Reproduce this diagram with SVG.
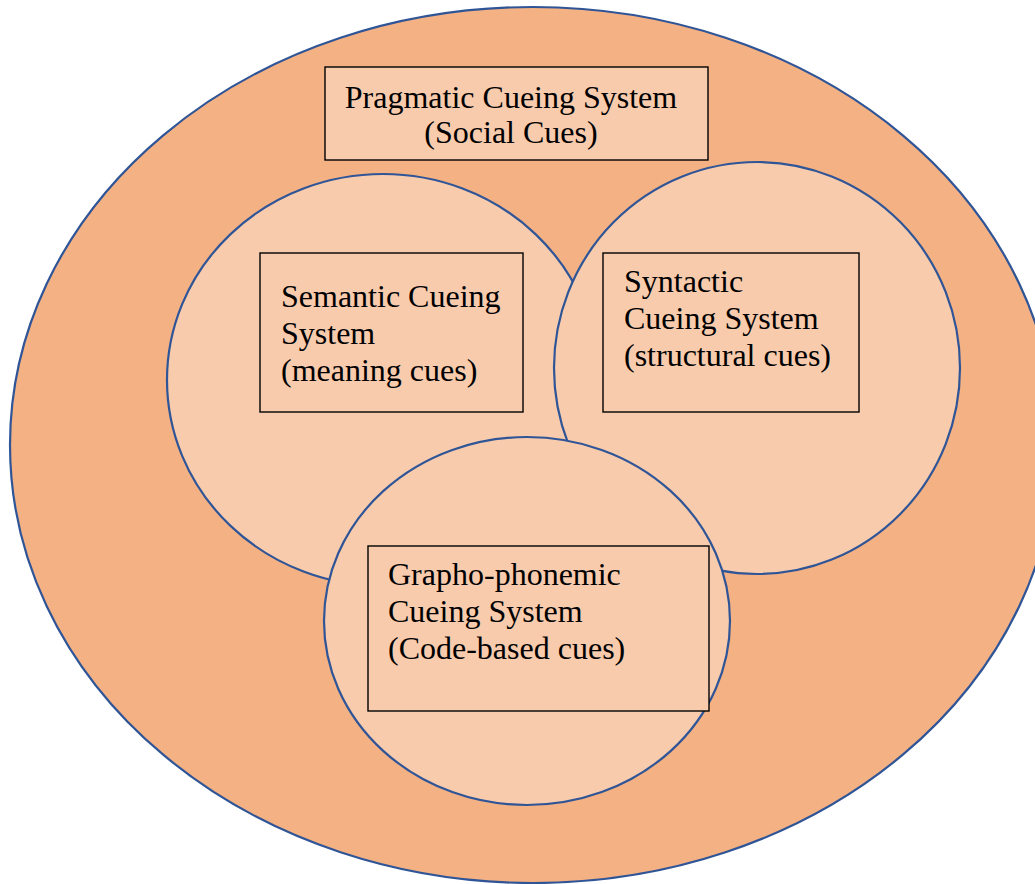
<svg xmlns="http://www.w3.org/2000/svg" width="1035" height="884" viewBox="0 0 1035 884">
<style>
.outer{fill:#F4B183;stroke:#2F5597;stroke-width:2.2}
.circ{fill:#F8CBAD;stroke:#2F5597;stroke-width:2.2}
.box{fill:#F8CBAD;stroke:#000;stroke-width:1.4}
text{font-family:"Liberation Serif","Times New Roman",serif;font-size:32px;fill:#000}
</style>
<rect width="1035" height="884" fill="#fff"/>
<g id="pragmatic">
<ellipse class="outer" cx="533" cy="445" rx="523" ry="438"/>
<rect class="box" x="325" y="67" width="383" height="93"/>
<text x="511" y="108" text-anchor="middle">Pragmatic Cueing System</text>
<text x="511" y="143" text-anchor="middle">(Social Cues)</text>
</g>
<g id="semantic">
<ellipse class="circ" cx="383" cy="380" rx="216" ry="206"/>
<rect class="box" x="260" y="253" width="263" height="159"/>
<text x="281" y="307">Semantic Cueing</text>
<text x="281" y="344">System</text>
<text x="281" y="381">(meaning cues)</text>
</g>
<g id="syntactic">
<ellipse class="circ" cx="757" cy="368" rx="203" ry="206"/>
<rect class="box" x="603" y="253" width="256" height="159"/>
<text x="624" y="292">Syntactic</text>
<text x="624" y="329">Cueing System</text>
<text x="624" y="366">(structural cues)</text>
</g>
<g id="graphophonemic">
<ellipse class="circ" cx="527" cy="621" rx="203" ry="184"/>
<rect class="box" x="368" y="546" width="341" height="165"/>
<text x="388" y="585">Grapho-phonemic</text>
<text x="388" y="622">Cueing System</text>
<text x="388" y="659">(Code-based cues)</text>
</g>
<g id="connectors"/>
</svg>
